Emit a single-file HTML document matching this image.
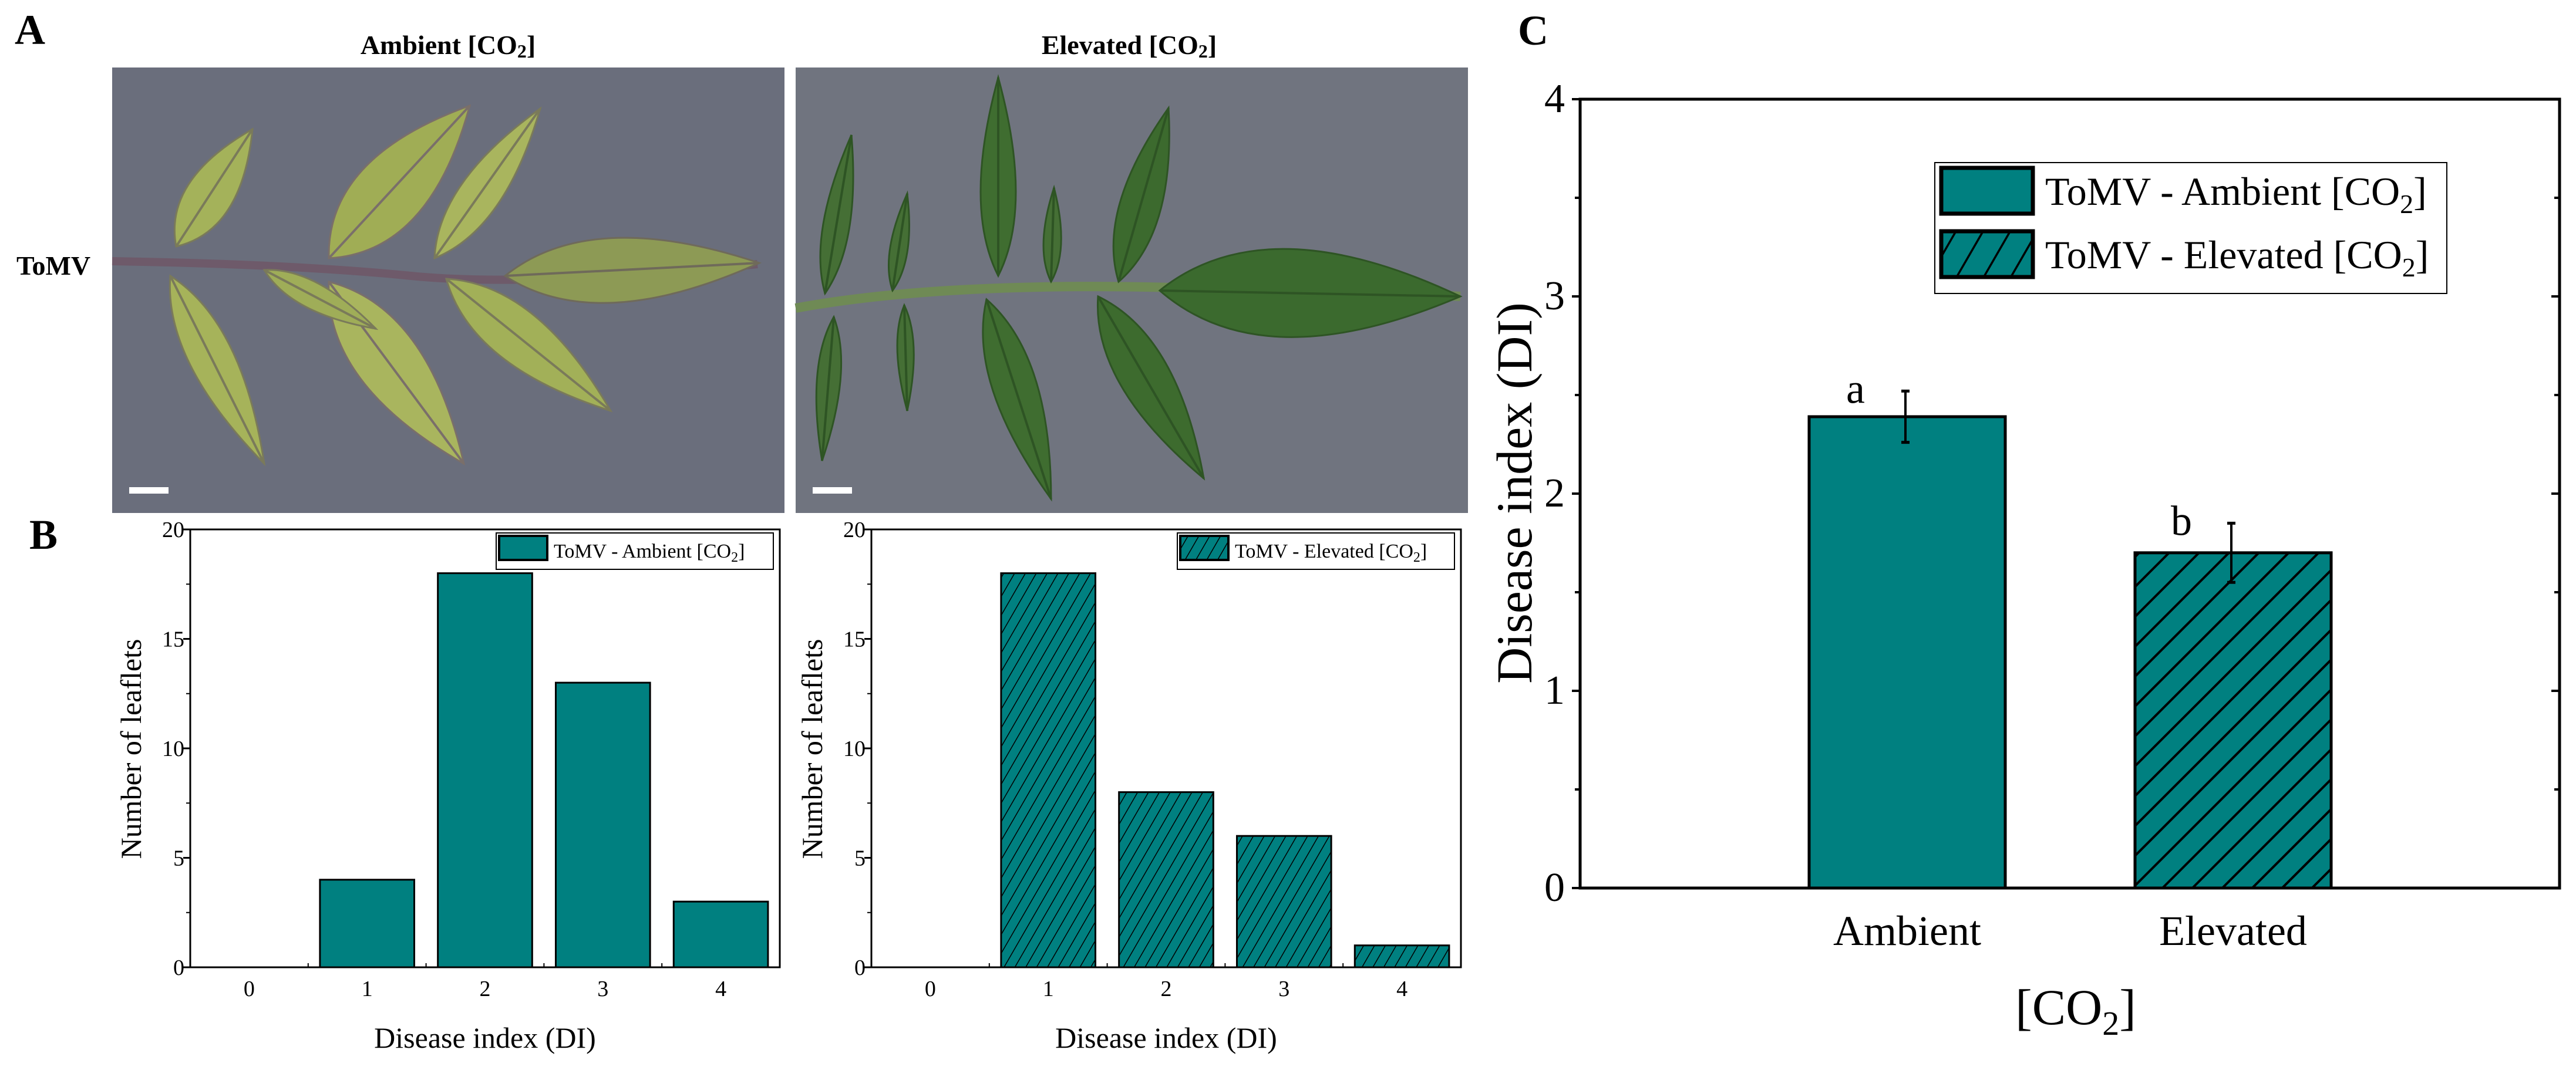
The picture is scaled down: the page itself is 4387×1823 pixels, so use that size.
<!DOCTYPE html>
<html><head><meta charset="utf-8"><style>
html,body{margin:0;padding:0;background:#fff;}
svg{display:block;font-family:"Liberation Serif",serif;}
</style></head><body>
<svg id="fig" width="4387" height="1823" viewBox="0 0 4387 1823" xmlns="http://www.w3.org/2000/svg">
<defs>
<pattern id="hatchC" patternUnits="userSpaceOnUse" width="36" height="36" patternTransform="rotate(45)">
<rect width="36" height="36" fill="#008080"/><line x1="0" y1="0" x2="0" y2="36" stroke="#000" stroke-width="8"/></pattern>
<pattern id="hatchB" patternUnits="userSpaceOnUse" width="16" height="16" patternTransform="rotate(30)">
<rect width="16" height="16" fill="#008080"/><line x1="0" y1="0" x2="0" y2="16" stroke="#000" stroke-width="3"/></pattern>
<pattern id="hatchL" patternUnits="userSpaceOnUse" width="40" height="40" patternTransform="rotate(30)">
<rect width="40" height="40" fill="#008080"/><line x1="0" y1="0" x2="0" y2="40" stroke="#000" stroke-width="7"/></pattern>
</defs>
<g id="panelA">
<text x="25" y="75" font-size="72" font-weight="bold">A</text>
<text x="763" y="92" font-size="46" font-weight="bold" text-anchor="middle">Ambient [CO<tspan font-size="32" dy="6">2</tspan><tspan dy="-6">]</tspan></text>
<text x="1923" y="92" font-size="46" font-weight="bold" text-anchor="middle">Elevated [CO<tspan font-size="32" dy="6">2</tspan><tspan dy="-6">]</tspan></text>
<text x="28" y="468" font-size="46" font-weight="bold">ToMV</text>
<rect x="191" y="115" width="1145" height="759" fill="#6a6e7c"/>
<rect x="1355" y="115" width="1145" height="759" fill="#70747f"/>
<g id="leavesL"></g><g id="leavesR"></g>
<rect x="220" y="830" width="67" height="11" fill="#fff"/>
<rect x="1384" y="830" width="67" height="11" fill="#fff"/>
</g>
<text x="50" y="935" font-size="72" font-weight="bold">B</text>
<text x="2585" y="76" font-size="72" font-weight="bold">C</text>
<g id="chartB1"></g><g id="chartB2"></g><g id="chartC"></g>
</svg>
<script>
// ---- data ----
const histCategories = [0, 1, 2, 3, 4];
const ambientCounts = [0, 4, 18, 13, 3];
const elevatedCounts = [0, 18, 8, 6, 1];
const histYTicks = [0, 5, 10, 15, 20];
const cCategories = ["Ambient", "Elevated"];
const cMeans = [2.39, 1.70];
const cErrors = [0.13, 0.15];
const cLetters = ["a", "b"];
const cYTicks = [0, 1, 2, 3, 4];

const NS = "http://www.w3.org/2000/svg";
function mk(parent, tag, attrs, text) {
  const e = document.createElementNS(NS, tag);
  for (const k in attrs) e.setAttribute(k, attrs[k]);
  if (text !== undefined) e.textContent = text;
  parent.appendChild(e);
  return e;
}

// ---- photo leaves ----
function leaf(g, x1, y1, x2, y2, w, col, vein) {
  const dx = x2 - x1, dy = y2 - y1, L = Math.hypot(dx, dy);
  const nx = -dy / L * w, ny = dx / L * w;
  const d = `M${x1},${y1} Q${x1 + dx * 0.35 + nx},${y1 + dy * 0.35 + ny} ${x2},${y2} Q${x1 + dx * 0.35 - nx},${y1 + dy * 0.35 - ny} ${x1},${y1} Z`;
  const p = mk(g, "path", {d: d, fill: col, stroke: vein, "stroke-width": 3});
  
  
  mk(g, "line", {x1: x1, y1: y1, x2: x2, y2: y2, stroke: vein, "stroke-width": 4});
}
const gl = document.getElementById("leavesL");
mk(gl, "path", {d: "M191,445 Q500,450 700,470 T1290,450", fill: "none", stroke: "#6e5a6a", "stroke-width": 14});
leaf(gl, 860, 470, 1293, 448, 110, "#8d9a55", "#6f6a5a");
leaf(gl, 300, 420, 430, 220, 80, "#a4b25a", "#7a7a5a");
leaf(gl, 560, 440, 800, 180, 120, "#a0ad55", "#7a6f6a");
leaf(gl, 740, 440, 920, 185, 70, "#a9b55e", "#7a7a5a");
leaf(gl, 290, 470, 450, 790, 75, "#a6b35a", "#7a7a5a");
leaf(gl, 560, 480, 790, 790, 110, "#a9b55e", "#7a6f6a");
leaf(gl, 760, 475, 1040, 700, 90, "#a2b058", "#7a7a5a");
leaf(gl, 450, 460, 640, 560, 45, "#9fad58", "#7a7a5a");
const gr = document.getElementById("leavesR");
mk(gr, "path", {d: "M1355,525 Q1600,480 2000,490 T2487,505", fill: "none", stroke: "#6f8a55", "stroke-width": 16});
leaf(gr, 1975, 495, 2487, 505, 150, "#3b6a2e", "#2e5424");
leaf(gr, 1700, 470, 1700, 132, 60, "#3f6d30", "#2e5424");
leaf(gr, 1905, 480, 1990, 184, 70, "#3c6a2e", "#2e5424");
leaf(gr, 1405, 500, 1450, 230, 45, "#456f35", "#2e5424");
leaf(gr, 1520, 495, 1545, 330, 30, "#456f35", "#2e5424");
leaf(gr, 1790, 480, 1795, 320, 30, "#456f35", "#2e5424");
leaf(gr, 1680, 510, 1790, 850, 75, "#3f6d30", "#2e5424");
leaf(gr, 1870, 505, 2050, 815, 85, "#3d6b2e", "#2e5424");
leaf(gr, 1420, 540, 1400, 785, 40, "#456f35", "#2e5424");
leaf(gr, 1540, 520, 1545, 700, 28, "#456f35", "#2e5424");

// ---- histograms B ----
function hist(gid, L, R, counts, fill, legendText, lx0, name) {
  const g = document.getElementById(gid);
  const T = 902, B = 1648;
  const xs = v => L + (v + 0.5) * (R - L) / 5;
  const ys = v => B - v * (B - T) / 20;
  histCategories.forEach((c, i) => {
    const x0 = xs(c - 0.4), x1 = xs(c + 0.4);
    const r = mk(g, "rect", {x: x0, y: ys(counts[i]), width: x1 - x0, height: ys(0) - ys(counts[i]), fill: fill, stroke: "#000", "stroke-width": 3});
    
    
    const t = mk(g, "text", {x: xs(c), y: 1697, "font-size": 38, "text-anchor": "middle"}, String(c));
    
    
    mk(g, "line", {x1: xs(c + 0.5), y1: B, x2: xs(c + 0.5), y2: B - 7, stroke: "#000", "stroke-width": 2});
  });
  histYTicks.forEach(v => {
    mk(g, "line", {x1: L - 12, y1: ys(v), x2: L, y2: ys(v), stroke: "#000", "stroke-width": 3});
    if (v < 20) mk(g, "line", {x1: L - 7, y1: ys(v + 2.5), x2: L, y2: ys(v + 2.5), stroke: "#000", "stroke-width": 2});
    const t = mk(g, "text", {x: L - 10, y: ys(v) + 13, "font-size": 38, "text-anchor": "end"}, String(v));
    
    
  });
  const f = mk(g, "rect", {x: L, y: T, width: R - L, height: B - T, fill: "none", stroke: "#000", "stroke-width": 3});
  
  
  const xt = mk(g, "text", {x: (L + R) / 2, y: 1785, "font-size": 50, "text-anchor": "middle"}, "Disease index (DI)");
  
  
  const yt = mk(g, "text", {x: 0, y: 0, "font-size": 50, "text-anchor": "middle", transform: `translate(${L - 84},1276) rotate(-90)`}, "Number of leaflets");
  
  
  const lg = mk(g, "g", {});
  
  
  mk(lg, "rect", {x: lx0, y: 908, width: 472, height: 62, fill: "#fff", stroke: "#000", "stroke-width": 2});
  mk(lg, "rect", {x: lx0 + 5, y: 913, width: 82, height: 41, fill: fill, stroke: "#000", "stroke-width": 4});
  const lt = mk(lg, "text", {x: lx0 + 98, y: 950, "font-size": 34});
  lt.textContent = legendText + " [CO";
  mk(lt, "tspan", {"font-size": 24, dy: 7}, "2");
  mk(lt, "tspan", {dy: -7}, "]");
}
hist("chartB1", 324, 1328, ambientCounts, "#008080", "ToMV - Ambient", 845, "ambient-histogram");
hist("chartB2", 1484, 2488, elevatedCounts, "url(#hatchB)", "ToMV - Elevated", 2005, "elevated-histogram");

// ---- panel C ----
(function () {
  const g = document.getElementById("chartC");
  const L = 2691, R = 4359, T = 169, B = 1513;
  const ys = v => B - v * (B - T) / 4;
  const centers = [3248, 3803];
  const halfW = 167;
  const fills = ["#008080", "url(#hatchC)"];
  cCategories.forEach((c, i) => {
    const r = mk(g, "rect", {x: centers[i] - halfW, y: ys(cMeans[i]), width: 2 * halfW, height: ys(0) - ys(cMeans[i]), fill: fills[i], stroke: "#000", "stroke-width": 5});
    
    
    const eb = mk(g, "g", {});
    
    
    const ex = centers[i] - 3;
    mk(eb, "line", {x1: ex, y1: ys(cMeans[i] + cErrors[i]), x2: ex, y2: ys(cMeans[i] - cErrors[i]), stroke: "#000", "stroke-width": 4});
    mk(eb, "line", {x1: ex - 7, y1: ys(cMeans[i] + cErrors[i]), x2: ex + 7, y2: ys(cMeans[i] + cErrors[i]), stroke: "#000", "stroke-width": 5});
    mk(eb, "line", {x1: ex - 7, y1: ys(cMeans[i] - cErrors[i]), x2: ex + 7, y2: ys(cMeans[i] - cErrors[i]), stroke: "#000", "stroke-width": 5});
    const lt = mk(g, "text", {x: centers[i] - 88, y: ys(cMeans[i] + cErrors[i]) + 20, "font-size": 72, "text-anchor": "middle"}, cLetters[i]);
    
    
    const tl = mk(g, "text", {x: centers[i], y: 1610, "font-size": 72, "text-anchor": "middle"}, c);
    
    
  });
  cYTicks.forEach(v => {
    mk(g, "line", {x1: L - 14, y1: ys(v), x2: L, y2: ys(v), stroke: "#000", "stroke-width": 4});
    mk(g, "line", {x1: R - 14, y1: ys(v), x2: R, y2: ys(v), stroke: "#000", "stroke-width": 4});
    if (v < 4) {
      mk(g, "line", {x1: L - 9, y1: ys(v + 0.5), x2: L, y2: ys(v + 0.5), stroke: "#000", "stroke-width": 4});
      mk(g, "line", {x1: R - 9, y1: ys(v + 0.5), x2: R, y2: ys(v + 0.5), stroke: "#000", "stroke-width": 4});
    }
    const t = mk(g, "text", {x: L - 26, y: ys(v) + 22, "font-size": 70, "text-anchor": "end"}, String(v));
    
    
  });
  const f = mk(g, "rect", {x: L, y: T, width: R - L, height: B - T, fill: "none", stroke: "#000", "stroke-width": 5});
  
  
  const yt = mk(g, "text", {x: 0, y: 0, "font-size": 86, "text-anchor": "middle", transform: "translate(2608,840) rotate(-90)"}, "Disease index (DI)");
  
  
  const xt = mk(g, "text", {x: 3535, y: 1745, "font-size": 86, "text-anchor": "middle"}, "[CO");
  mk(xt, "tspan", {"font-size": 58, dy: 18}, "2");
  mk(xt, "tspan", {dy: -18}, "]");
  
  
  const lg = mk(g, "g", {});
  
  
  mk(lg, "rect", {x: 3295, y: 277, width: 872, height: 223, fill: "#fff", stroke: "#000", "stroke-width": 2});
  mk(lg, "rect", {x: 3306, y: 286, width: 156, height: 78, fill: "#008080", stroke: "#000", "stroke-width": 7});
  mk(lg, "rect", {x: 3306, y: 394, width: 156, height: 78, fill: "url(#hatchL)", stroke: "#000", "stroke-width": 7});
  const names = ["ToMV - Ambient [CO", "ToMV - Elevated [CO"];
  [349, 457].forEach((by, i) => {
    const t = mk(lg, "text", {x: 3483, y: by, "font-size": 68}, names[i]);
    mk(t, "tspan", {"font-size": 46, dy: 14}, "2");
    mk(t, "tspan", {dy: -14}, "]");
  });
})();
</script>
</body></html>
